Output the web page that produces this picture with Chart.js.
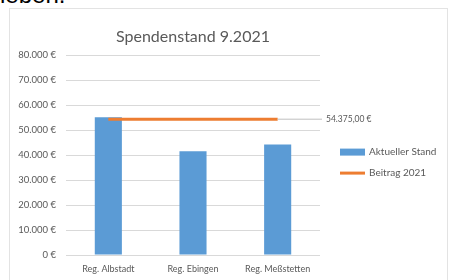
<!DOCTYPE html>
<html>
<head>
<meta charset="utf-8">
<script src="https://cdn.jsdelivr.net/npm/chart.js@4"></script>
<style>
    body { margin: 0; background: #fff; width: 449px; height: 280px; overflow: hidden; position: relative; }
    .prev { position: absolute; left: 0; top: -19px; font: 24px 'Liberation Sans', Arial, sans-serif; color: #000; }
    .frame { position: absolute; left: 9px; top: 8px; width: 437px; height: 272px; border: 1px solid #e3e3e3; border-bottom: none; }
    .frame canvas { display: block; }
</style>
</head>
<body>
<div class="prev">leben.</div>
<div class="frame"><canvas id="spendenChart" width="437" height="272"></canvas></div>
<script>
const categories = ['Reg. Albstadt', 'Reg. Ebingen', 'Reg. Meßstetten'];
const aktuellerStand = [55200, 41500, 44200];
const beitrag2021 = [54375, 54375, 54375];
const beitragLabel = '54.375,00 €';
const yMax = 80000;
const yStep = 10000;

const euro = v => String(v).replace(/\B(?=(\d{3})+(?!\d))/g, '.') + ' €';

// Datenbeschriftung am letzten Punkt der Linie + Legende rechts (wie in Excel)
const excelExtras = {
    id: 'excelExtras',
    afterDatasetsDraw(chart) {
        const ctx = chart.ctx;
        const area = chart.chartArea;
        const meta = chart.getDatasetMeta(1);
        const last = meta.data[meta.data.length - 1];
        const x2 = area.right + 2;
        ctx.save();
        ctx.strokeStyle = '#bfbfbf';
        ctx.lineWidth = 1;
        ctx.beginPath();
        ctx.moveTo(last.x, last.y);
        ctx.lineTo(x2, last.y);
        ctx.stroke();
        ctx.fillStyle = '#595959';
        ctx.font = '8.5px Lato';
        ctx.textBaseline = 'middle';
        ctx.fillText(beitragLabel, x2 + 4, last.y);

        // Legende
        const lx = area.right + 20;
        const mid = (area.top + area.bottom) / 2;
        const rows = [mid - 3, mid + 18];
        ctx.font = '10px Lato';
        chart.data.datasets.forEach((ds, i) => {
            const y = rows[i];
            if (ds.type === 'line') {
                ctx.strokeStyle = ds.borderColor;
                ctx.lineWidth = ds.borderWidth;
                ctx.beginPath();
                ctx.moveTo(lx, y);
                ctx.lineTo(lx + 25, y);
                ctx.stroke();
            } else {
                ctx.fillStyle = ds.backgroundColor;
                ctx.fillRect(lx, y - 3.5, 25, 7);
            }
            ctx.fillStyle = '#595959';
            ctx.fillText(ds.label, lx + 29, y);
        });
        ctx.restore();
    }
};

document.addEventListener('DOMContentLoaded', () => {
    const ctx = document.getElementById('spendenChart');
    new Chart(ctx, {
        type: 'bar',
        data: {
            labels: categories,
            datasets: [
                {
                    label: 'Aktueller Stand',
                    data: aktuellerStand,
                    backgroundColor: '#5b9bd5',
                    barPercentage: 0.32,
                    categoryPercentage: 1,
                    order: 1
                },
                {
                    type: 'line',
                    label: 'Beitrag 2021',
                    data: beitrag2021,
                    borderColor: '#ed7d31',
                    backgroundColor: '#ed7d31',
                    borderWidth: 3,
                    pointRadius: 0,
                    order: 0
                }
            ]
        },
        options: {
            responsive: false,
            animation: false,
            layout: { padding: { left: 0, right: 127, top: 0, bottom: 0 } },
            scales: {
                x: {
                    grid: { display: false },
                    border: { display: false },
                    ticks: { color: '#595959', font: { family: 'Lato', size: 9 }, padding: 1 },
                    afterFit: s => { s.height = 26; }
                },
                y: {
                    min: 0,
                    max: yMax,
                    ticks: {
                        stepSize: yStep,
                        color: '#595959',
                        font: { family: 'Lato', size: 9.5 },
                        padding: 10,
                        callback: v => euro(v)
                    },
                    grid: { color: '#d9d9d9', drawTicks: false },
                    border: { display: false },
                    afterFit: s => { s.width = 56; }
                }
            },
            plugins: {
                title: {
                    display: true,
                    text: 'Spendenstand 9.2021',
                    fullSize: false,
                    color: '#595959',
                    font: { family: 'Lato', size: 16, weight: 'normal', lineHeight: 1.2 },
                    padding: { top: 18, bottom: 9 }
                },
                legend: { display: false },
                tooltip: { enabled: false }
            }
        },
        plugins: [excelExtras]
    });
});
</script>
</body>
</html>
